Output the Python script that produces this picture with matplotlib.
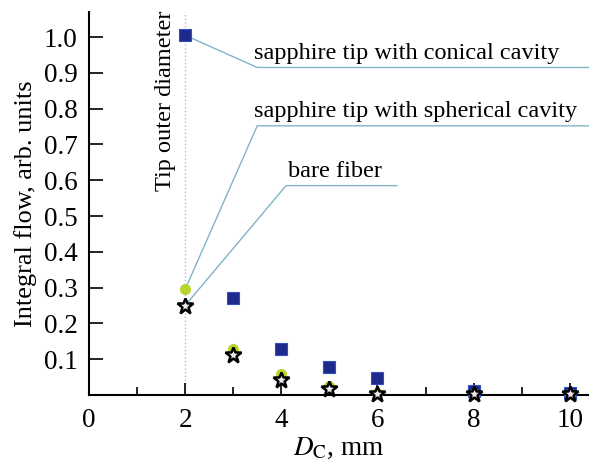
import matplotlib.pyplot as plt
from matplotlib.ticker import MultipleLocator

plt.rcParams['font.family'] = ['Liberation Serif', 'DejaVu Serif']
plt.rcParams['mathtext.fontset'] = 'stix'

# data
dc = [2, 3, 4, 5, 6, 8, 10]
conical = [1.005, 0.27, 0.13, 0.078, 0.047, 0.011, 0.006]
spherical = [0.295, 0.128, 0.058, 0.026, 0.006, 0.004, 0.003]
bare = [0.25, 0.112, 0.043, 0.018, 0.003, 0.003, 0.002]
yticks = [0.1, 0.2, 0.3, 0.4, 0.5, 0.6, 0.7, 0.8, 0.9, 1.0]

fig = plt.figure(figsize=(5.89, 4.61), dpi=100)
ax = fig.add_axes([0.151, 0.143, 0.849, 0.831])

ax.axvline(2, color='#e8a0d8', lw=1, ls=':', zorder=1)

ax.plot(dc, conical, 's', ms=8.5, mfc='#1c2a8c', mec='#3050c0', mew=0.8, ls='none', zorder=3, clip_on=False)
ax.plot(dc, spherical, 'o', ms=7, mfc='#b8d430', mec='#b8d430', ls='none', zorder=4, clip_on=False)
ax.plot(dc, bare, '*', ms=12, mfc='#f4e8f0', mec='black', mew=1.8, ls='none', zorder=5, clip_on=False)

ax.set_xlim(0, 10.4)
ax.set_ylim(0, 1.07)
ax.spines['top'].set_visible(False)
ax.spines['right'].set_visible(False)
ax.spines['left'].set_linewidth(1.5)
ax.spines['bottom'].set_linewidth(1.5)

ax.xaxis.set_major_locator(MultipleLocator(2))
ax.xaxis.set_minor_locator(MultipleLocator(1))
ax.set_yticks(yticks)
ax.set_yticklabels(['%.1f' % v for v in yticks])
ax.tick_params(direction='in', labelsize=19.5, width=1.2)
ax.tick_params(axis='x', which='major', length=9, pad=9)
ax.tick_params(axis='x', which='minor', length=6, width=1.2, direction='in')
ax.tick_params(axis='y', which='major', length=10, pad=8)

ax.set_xlabel(r'$D_\mathrm{C}$, mm', fontsize=19.5, labelpad=2)
ax.set_ylabel('Integral flow, arb. units', fontsize=19, labelpad=5)

ax.text(1.6, 1.075, 'Tip outer diameter', rotation=90, fontsize=17.5,
        ha='center', va='top')

lc = '#80b4c8'
# leader lines: (point) -> elbow -> end of horizontal
ax.plot([2, 3.5, 10.4], [conical[0], 0.915, 0.915], color=lc, lw=1, zorder=2, clip_on=False)
ax.plot([2, 3.5, 10.4], [spherical[0], 0.752, 0.752], color=lc, lw=1, zorder=2, clip_on=False)
ax.plot([2, 4.1, 6.4], [bare[0], 0.585, 0.585], color=lc, lw=1, zorder=2, clip_on=False)

ax.text(3.43, 0.925, 'sapphire tip with conical cavity', fontsize=17.5, ha='left', va='bottom')
ax.text(3.43, 0.762, 'sapphire tip with spherical cavity', fontsize=17.5, ha='left', va='bottom')
ax.text(4.15, 0.595, 'bare fiber', fontsize=17.5, ha='left', va='bottom')

fig.savefig('out.png', dpi=100)
